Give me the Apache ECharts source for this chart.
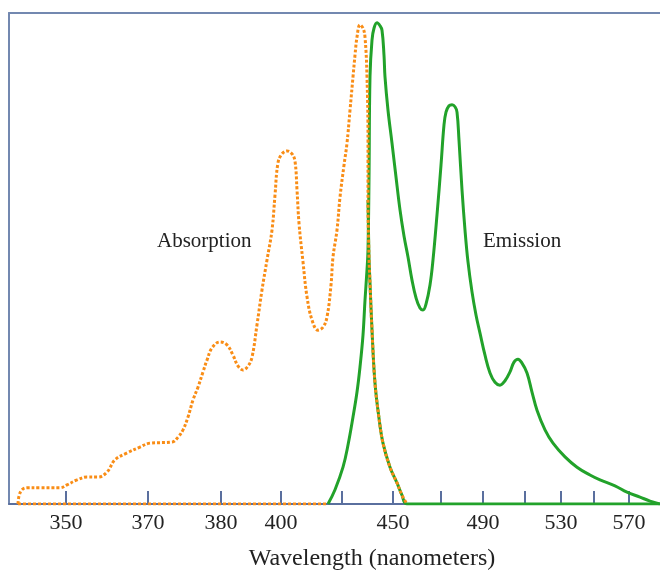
<!DOCTYPE html>
<html>
<head>
<meta charset="utf-8">
<script src="https://cdn.jsdelivr.net/npm/echarts@6/dist/echarts.min.js"></script>
<style>
  html, body { margin: 0; padding: 0; background: #fff; }
  #chart { width: 660px; height: 570px; }
</style>
</head>
<body>
<div id="chart"></div>
<script>
// x is the drawing's position along the (non-linear) wavelength scale,
// y is relative intensity 0-100
const tickPositions = [66, 148, 221, 281, 342, 393, 441, 483, 525, 561, 594, 629]
const labelPositions = [66, 148, 221, 281, 393, 483, 561, 629]
const tickLabels = ['350', '370', '380', '400', '450', '490', '530', '570']

const absorption = [
  [18, 0], [19, 1.6], [22, 2.9], [27, 3.3], [40, 3.3], [60, 3.3], [67, 3.9],
  [77, 4.9], [87, 5.5], [98, 5.5], [107, 6.5], [115, 9.0], [127, 10.4],
  [140, 11.6], [150, 12.4], [172, 12.6], [178, 13.6], [183, 15.1], [188, 17.7],
  [193, 21.2], [198, 23.8], [203, 26.9], [207, 29.3], [212, 31.8], [220, 33.0],
  [227, 32.4], [233, 30.3], [238, 28.1], [243, 27.3], [248, 28.1], [252, 29.9],
  [257, 36.5], [262, 43.6], [267, 49.7], [272, 55.8], [275, 62.9], [278, 69.5],
  [282, 71.3], [287, 71.9], [292, 71.3], [295, 69.8], [297, 64.0], [299, 57.2],
  [303, 49.3], [307, 42.2], [312, 37.5], [318, 35.4], [323, 36.0], [327, 38.1],
  [331, 44.6], [333, 50.3], [337, 55.8], [340, 62.5], [344, 69.0], [347, 73.5],
  [350, 80.2], [353, 87.0], [355, 91.4], [357, 95.1], [360, 97.6], [363, 96.9],
  [365, 95.1], [367, 87.0], [368, 73.5], [368, 61.9], [369, 50.3], [370, 45.0],
  [372, 35.4], [375, 24.6], [379, 17.5], [383, 12.4], [390, 7.5], [397, 4.3],
  [402, 1.8], [407, 0]
]
const absorptionBase = [[18, 0], [326, 0]]

const emission = [
  [328, 0], [335, 2.9], [343, 7.5], [348, 12.0], [353, 17.7], [357, 22.8],
  [360, 27.9], [363, 34.4], [365, 41.5], [367, 47.7], [368, 51.7], [369, 66.0],
  [370, 87.0], [372, 94.5], [374, 96.9], [377, 98.0], [380, 97.4], [382, 96.5],
  [384, 91.4], [385, 87.0], [388, 80.2], [392, 73.5], [396, 66.6], [400, 59.9],
  [404, 54.6], [408, 50.3], [412, 45.6], [416, 42.0], [420, 39.9], [423, 39.5],
  [426, 40.7], [430, 44.6], [433, 49.7], [437, 58.9], [441, 69.0], [444, 77.2],
  [446, 79.8], [449, 81.1], [452, 81.3], [455, 80.9], [457, 79.8], [459, 74.1],
  [462, 64.0], [465, 55.8], [468, 49.3], [472, 43.2], [476, 38.5], [480, 34.8],
  [485, 30.3], [490, 26.7], [495, 24.8], [500, 24.2], [505, 25.1], [510, 26.9],
  [514, 28.9], [518, 29.5], [522, 28.7], [527, 26.7], [532, 22.8], [537, 19.1],
  [545, 15.1], [553, 12.4], [565, 9.6], [577, 7.5], [590, 5.9], [600, 4.9],
  [615, 3.7], [627, 2.4], [640, 1.4], [650, 0.6], [660, 0]
]

// green line under the absorption tail, then along the baseline
const greenTail = absorption.slice(absorption.length - 11).concat([[660, 0]])

const axisColor = '#5a6f9e'
const orange = '#f98d16'
const green = '#22a22a'
const serif = '"Liberation Serif", "DejaVu Serif", serif'

const chart = echarts.init(document.getElementById('chart'))

chart.setOption({
  animation: false,
  grid: { left: 9, top: 13, right: 0, bottom: 66, outerBoundsMode: 'none' },
  xAxis: [
    {
      type: 'value',
      min: 9,
      max: 660,
      name: 'Wavelength (nanometers)',
      nameLocation: 'middle',
      nameGap: 43,
      nameTextStyle: {
        fontFamily: serif,
        fontSize: 24,
        color: '#222',
        padding: [0, 0, 0, 75]
      },
      axisLine: { lineStyle: { color: axisColor, width: 2 } },
      axisTick: {
        show: true,
        inside: true,
        length: 13,
        customValues: tickPositions,
        lineStyle: { color: axisColor, width: 2 }
      },
      axisLabel: {
        customValues: labelPositions,
        margin: 8,
        fontFamily: serif,
        fontSize: 22,
        color: '#222',
        formatter: (v) => tickLabels[labelPositions.indexOf(v)] || ''
      },
      splitLine: { show: false }
    },
    {
      type: 'value',
      position: 'top',
      min: 9,
      max: 660,
      axisLine: { show: true, lineStyle: { color: '#7388b0', width: 2 } },
      axisTick: { show: false },
      axisLabel: { show: false },
      splitLine: { show: false }
    }
  ],
  yAxis: {
    type: 'value',
    min: 0,
    max: 100,
    axisLine: { show: true, lineStyle: { color: '#7388b0', width: 2 } },
    axisTick: { show: false },
    axisLabel: { show: false },
    splitLine: { show: false }
  },
  graphic: [
    {
      type: 'text',
      left: 157,
      top: 231,
      style: { text: 'Absorption', font: '21px ' + serif, fill: '#222' }
    },
    {
      type: 'text',
      left: 483,
      top: 231,
      style: { text: 'Emission', font: '21px ' + serif, fill: '#222' }
    }
  ],
  series: [
    {
      name: 'Emission tail',
      type: 'line',
      data: greenTail,
      smooth: 0.4,
      showSymbol: false,
      silent: true,
      lineStyle: { color: green, width: 3 }
    },
    {
      name: 'Emission',
      type: 'line',
      data: emission,
      smooth: 0.4,
      showSymbol: false,
      silent: true,
      lineStyle: { color: green, width: 3 }
    },
    {
      name: 'Absorption base',
      type: 'line',
      data: absorptionBase,
      showSymbol: false,
      silent: true,
      lineStyle: { color: orange, width: 3, type: [3, 2] }
    },
    {
      name: 'Absorption',
      type: 'line',
      data: absorption,
      smooth: 0.4,
      showSymbol: false,
      silent: true,
      lineStyle: { color: orange, width: 3, type: [3, 2] }
    }
  ]
})
</script>
</body>
</html>
